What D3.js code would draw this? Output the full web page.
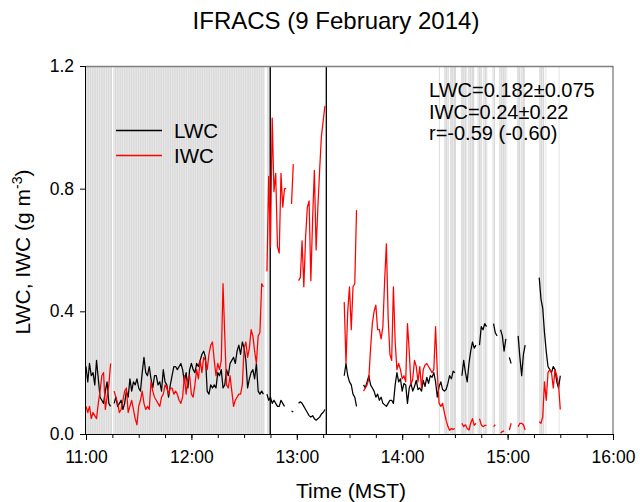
<!DOCTYPE html>
<html>
<head>
<meta charset="utf-8">
<script src="https://cdn.jsdelivr.net/npm/d3@7"></script>
<style>
  body { margin: 0; background: #fff; }
  text { font-family: "Liberation Sans", Arial, sans-serif; fill: #000; }
</style>
</head>
<body>
<svg id="lwcChart" width="640" height="502"></svg>
<script>
var svg = d3.select("#lwcChart");
const width = +svg.attr("width");
const height = +svg.attr("height");

//plot box edges
const plotLeft = 86, plotRight = 613, plotTop = 66, plotBottom = 434;

// minutes after 11:00 MST, one sample per minute
const minutes = d3.range(0, 271);

// liquid water content (g m-3), null where there is no data
const lwc = [
  0.22, 0.17, 0.23, 0.19, 0.20, 0.16, 0.24, 0.18, 0.12, 0.11,
  0.10, 0.14, 0.17, 0.10, 0.09, null, 0.10, 0.12, 0.09, 0.10,
  0.11, 0.08, 0.10, 0.14, 0.12, 0.18, 0.14, 0.17, 0.16, 0.18,
  0.15, 0.14, 0.20, 0.25, 0.20, 0.19, 0.22, 0.18, 0.15, 0.19,
  0.19, 0.16, 0.17, 0.14, 0.21, 0.17, 0.16, 0.12, 0.16, 0.19,
  0.22, 0.22, 0.21, 0.22, 0.23, 0.21, 0.17, 0.20, 0.15, 0.21,
  0.23, 0.21, 0.20, 0.23, 0.22, 0.24, 0.26, 0.27, 0.25, 0.14,
  0.13, 0.16, 0.15, 0.16, 0.15, 0.20, 0.19, 0.21, 0.15, 0.16,
  0.21, 0.19, 0.23, 0.24, 0.25, 0.23, 0.27, 0.29, 0.26, 0.30,
  0.28, 0.24, 0.15, 0.18, 0.20, 0.21, 0.18, 0.23, 0.14, 0.13,
  0.14, 0.13, null, 0.13, 0.11, 0.12, 0.10, 0.11, 0.10, 0.09,
  0.09, 0.11, 0.10, 0.09, null, null, null, 0.075, 0.072, null,
  null, 0.10, 0.105, 0.10, 0.09, 0.08, 0.07, 0.06, 0.055, 0.06,
  0.05, 0.045, 0.05, 0.055, 0.065, 0.07, 0.08, null, null, null,
  null, null, null, null, null, null, null, 0.19, 0.23, 0.19,
  0.17, 0.16, 0.13, 0.12, 0.09, null, null, null, 0.16, 0.15,
  0.17, 0.19, 0.16, 0.15, 0.14, 0.12, 0.13, 0.11, 0.12, 0.10,
  0.095, 0.09, 0.10, 0.11, 0.11, 0.10, 0.16, 0.20, 0.17, 0.18,
  0.14, 0.165, 0.16, 0.10, 0.15, 0.165, 0.14, 0.155, 0.175, 0.145,
  0.15, 0.14, 0.175, 0.155, 0.185, 0.165, 0.19, 0.185, 0.20, 0.17,
  0.12, 0.155, 0.17, 0.145, 0.14, 0.145, 0.165, 0.19, 0.18, 0.205,
  0.20, null, null, null, 0.19, 0.24, 0.20, 0.17, 0.23, 0.27,
  0.30, 0.28, 0.29, null, 0.29, 0.35, 0.34, 0.36, 0.35, null,
  null, null, 0.36, 0.33, 0.32, null, 0.34, 0.32, 0.27, 0.31,
  null, 0.25, 0.23, null, null, null, 0.32, 0.25, 0.19, 0.26,
  0.29, null, null, null, null, null, null, null, 0.51, 0.44,
  0.41, 0.33, 0.27, 0.22, 0.21, 0.20, 0.22, 0.21, 0.17, 0.15,
  0.19
];

// ice water content (g m-3)
const iwc = [
  0.09, 0.07, 0.09, 0.05, 0.07, 0.06, 0.05, 0.10, 0.14, 0.19,
  0.20, 0.08, 0.12, 0.16, 0.23, null, 0.14, 0.12, 0.10, 0.07,
  0.08, 0.11, 0.14, 0.15, 0.07, 0.09, 0.11, 0.08, 0.05, 0.03,
  0.09, 0.11, 0.14, 0.10, 0.08, 0.09, 0.08, 0.17, 0.14, 0.12,
  0.11, 0.10, 0.09, 0.12, 0.13, 0.16, 0.15, 0.13, 0.15, 0.15,
  0.13, 0.14, 0.13, 0.11, 0.10, 0.12, 0.19, 0.13, 0.18, 0.19,
  0.13, 0.12, 0.16, 0.21, 0.18, 0.24, 0.20, 0.25, 0.24, 0.21,
  0.26, 0.29, 0.30, 0.24, 0.19, 0.23, 0.21, 0.24, 0.49, 0.32,
  0.16, 0.15, 0.19, 0.14, 0.09, 0.11, 0.12, 0.13, 0.13, 0.16,
  0.28, 0.30, 0.25, 0.28, 0.34, 0.32, 0.27, 0.23, 0.32, 0.33,
  0.49, 0.48, null, 0.53, 0.84, 0.61, 1.03, 0.79, 0.85, 0.61,
  0.59, 0.85, 0.74, 0.80, 0.80, null, null, 0.75, 0.88, null,
  null, 0.50, 0.51, 0.63, 0.48, 0.64, 0.74, 0.76, 0.50, 0.70,
  0.86, 0.60, 0.74, 0.86, 0.97, 1.02, 1.07, null, null, null,
  null, null, null, null, null, null, null, 0.43, 0.23, 0.40,
  0.48, 0.34, 0.48, 0.49, 0.73, null, null, null, 0.14, 0.15,
  0.16, 0.18, 0.28, 0.36, 0.40, 0.42, 0.34, 0.34, 0.31, 0.35,
  0.50, 0.62, 0.38, 0.26, 0.24, 0.48, 0.30, 0.21, 0.23, 0.21,
  0.18, 0.19, 0.17, 0.36, 0.27, 0.16, 0.18, 0.24, 0.22, 0.17,
  0.22, 0.15, 0.21, 0.225, 0.23, 0.22, 0.21, 0.20, 0.21, 0.35,
  0.20, 0.10, 0.09, 0.10, 0.07, 0.045, 0.025, 0.012, 0.018, 0.015,
  0.018, null, null, null, 0.035, 0.024, 0.03, 0.018, 0.013, 0.035,
  0.05, 0.028, 0.035, null, 0.05, 0.03, 0.024, 0.028, 0.028, null,
  null, null, 0.024, 0.03, null, null, 0.003, 0.008, 0.01, null,
  null, 0.013, 0.035, null, null, null, 0.024, 0.035, 0.035, 0.03,
  0.013, null, null, null, null, null, null, null, 0.04, 0.035,
  0.055, 0.17, 0.11, 0.20, 0.21, 0.20, 0.15, 0.21, 0.19, 0.16,
  0.08
];

// gray shading: periods flagged (start, end in minutes after 11:00)
const flaggedPeriods = [
  [0, 14.8], [15.6, 101.6], [103.0, 104.9],
  [200.9, 201.4], [203.9, 206.5], [207.2, 210.6], [213.4, 217.0], [217.6, 221.0],
  [222.9, 225.5], [226.2, 228.4], [231.4, 232.8], [235.2, 239.0], [239.4, 239.8],
  [245.3, 247.3], [247.8, 249.8], [258.0, 260.8], [261.6, 262.0], [269.1, 269.5]
];

// vertical black lines (minutes after 11:00)
const markerTimes = [104.9, 136.8];

const xTickValues = [0, 60, 120, 180, 240, 300];
const xTickLabels = ["11:00", "12:00", "13:00", "14:00", "15:00", "16:00"];
const xMinorTicks = d3.range(0, 301, 15);
const yTickValues = [0, 0.4, 0.8, 1.2];

const statLines = ["LWC=0.182\u00b10.075", "IWC=0.24\u00b10.22", "r=-0.59 (-0.60)"];
const legendNames = ["LWC", "IWC"];
const seriesColors = ["#000000", "#ff0000"];

var xScale = d3.scaleLinear().domain([0, 300]).range([plotLeft, plotRight]);
var yScale = d3.scaleLinear().domain([0, 1.2]).range([plotBottom, plotTop]);

//flagged periods, drawn as gray bands with a light stripe texture
var shade = svg.append("g").attr("class", "shade");
shade.selectAll("rect")
    .data(flaggedPeriods)
    .enter()
    .append("rect")
    .attr("x", d => xScale(d[0]))
    .attr("y", plotTop)
    .attr("width", d => xScale(d[1]) - xScale(d[0]))
    .attr("height", plotBottom - plotTop)
    .style("fill", "#d9d9d9");

flaggedPeriods.forEach(p => {
    shade.selectAll(null)
        .data(d3.range(p[0] + 0.6, p[1] - 0.3, 1.3))
        .enter()
        .append("line")
        .attr("x1", d => xScale(d))
        .attr("x2", d => xScale(d))
        .attr("y1", plotTop)
        .attr("y2", plotBottom)
        .style("stroke", "#ebebeb")
        .style("stroke-width", 0.9);
});

//vertical marker lines
svg.selectAll(".marker")
    .data(markerTimes)
    .enter()
    .append("line")
    .attr("class", "marker")
    .attr("x1", d => xScale(d))
    .attr("x2", d => xScale(d))
    .attr("y1", plotTop)
    .attr("y2", plotBottom)
    .style("stroke", "#000")
    .style("stroke-width", 1.3);

//data lines
const lineFor = (values) => d3.line()
    .defined((t, i) => values[i] !== null)
    .x(t => xScale(t))
    .y((t, i) => yScale(values[i]));

[lwc, iwc].forEach((values, k) => {
    svg.append("path")
        .datum(minutes)
        .attr("d", lineFor(values))
        .style("fill", "none")
        .style("stroke", seriesColors[k])
        .style("stroke-width", 1.25)
        .style("stroke-linejoin", "round");
});

//frame: top and right in gray
svg.append("line")
    .attr("x1", plotLeft).attr("x2", plotRight).attr("y1", plotTop + 0.5).attr("y2", plotTop + 0.5)
    .style("stroke", "#808080").style("stroke-width", 1.5);
svg.append("line")
    .attr("x1", plotRight).attr("x2", plotRight).attr("y1", plotTop).attr("y2", plotBottom)
    .style("stroke", "#555").style("stroke-width", 1);

//x-axis with minor ticks
svg.append("g")
    .attr("transform", "translate(0," + plotBottom + ")")
    .call(d3.axisBottom(xScale).tickValues(xMinorTicks).tickSize(4).tickFormat(""))
    .call(g => g.select(".domain").remove());

var bottomAxis = d3.axisBottom(xScale)
    .tickValues(xTickValues)
    .tickSize(6)
    .tickPadding(11)
    .tickFormat((d, i) => xTickLabels[i]);
svg.append("g")
    .attr("class", "xaxis")
    .attr("transform", "translate(0," + plotBottom + ")")
    .call(bottomAxis)
    .call(g => g.select(".domain").attr("d", "M" + plotLeft + ",0.5H" + plotRight))
    .selectAll("text").style("font-size", "17.5px");

//y-axis
var leftAxis = d3.axisLeft(yScale)
    .tickValues(yTickValues)
    .tickSize(6)
    .tickPadding(6)
    .tickFormat(d3.format(".1f"));
svg.append("g")
    .attr("class", "yaxis")
    .attr("transform", "translate(" + plotLeft + ",0)")
    .call(leftAxis)
    .call(g => g.select(".domain").attr("d", "M-0.5," + plotBottom + "V" + plotTop))
    .selectAll("text").style("font-size", "17.5px");

svg.selectAll(".tick line").style("stroke", "#000");

//title
svg.append("text")
    .attr("x", 336)
    .attr("y", 29)
    .attr("text-anchor", "middle")
    .style("font-size", "24px")
    .text("IFRACS (9 February 2014)");

//x-axis label
svg.append("text")
    .attr("x", 351)
    .attr("y", 498)
    .attr("text-anchor", "middle")
    .style("font-size", "21px")
    .text("Time (MST)");

//y-axis label, rotated to be vertical text
var yLabel = svg.append("text")
    .attr("transform", "translate(30,252)rotate(270)")
    .attr("text-anchor", "middle")
    .style("font-size", "21px");
yLabel.append("tspan").text("LWC, IWC (g m");
yLabel.append("tspan").attr("dy", -8).style("font-size", "14px").text("-3");
yLabel.append("tspan").attr("dy", 8).text(")");

//legend
var legend = svg.append("g").attr("class", "legend");
legendNames.forEach((name, i) => {
    legend.append("line")
        .attr("x1", 116).attr("x2", 162)
        .attr("y1", 130.5 + i * 25).attr("y2", 130.5 + i * 25)
        .style("stroke", seriesColors[i])
        .style("stroke-width", 1.3);
    legend.append("text")
        .attr("x", 174)
        .attr("y", 137.5 + i * 25)
        .style("font-size", "20.5px")
        .text(name);
});

//statistics
svg.selectAll(".stat")
    .data(statLines)
    .enter()
    .append("text")
    .attr("class", "stat")
    .attr("x", 429)
    .attr("y", (d, i) => 97 + i * 21.5)
    .style("font-size", "20px")
    .text(d => d);
</script>
</body>
</html>
